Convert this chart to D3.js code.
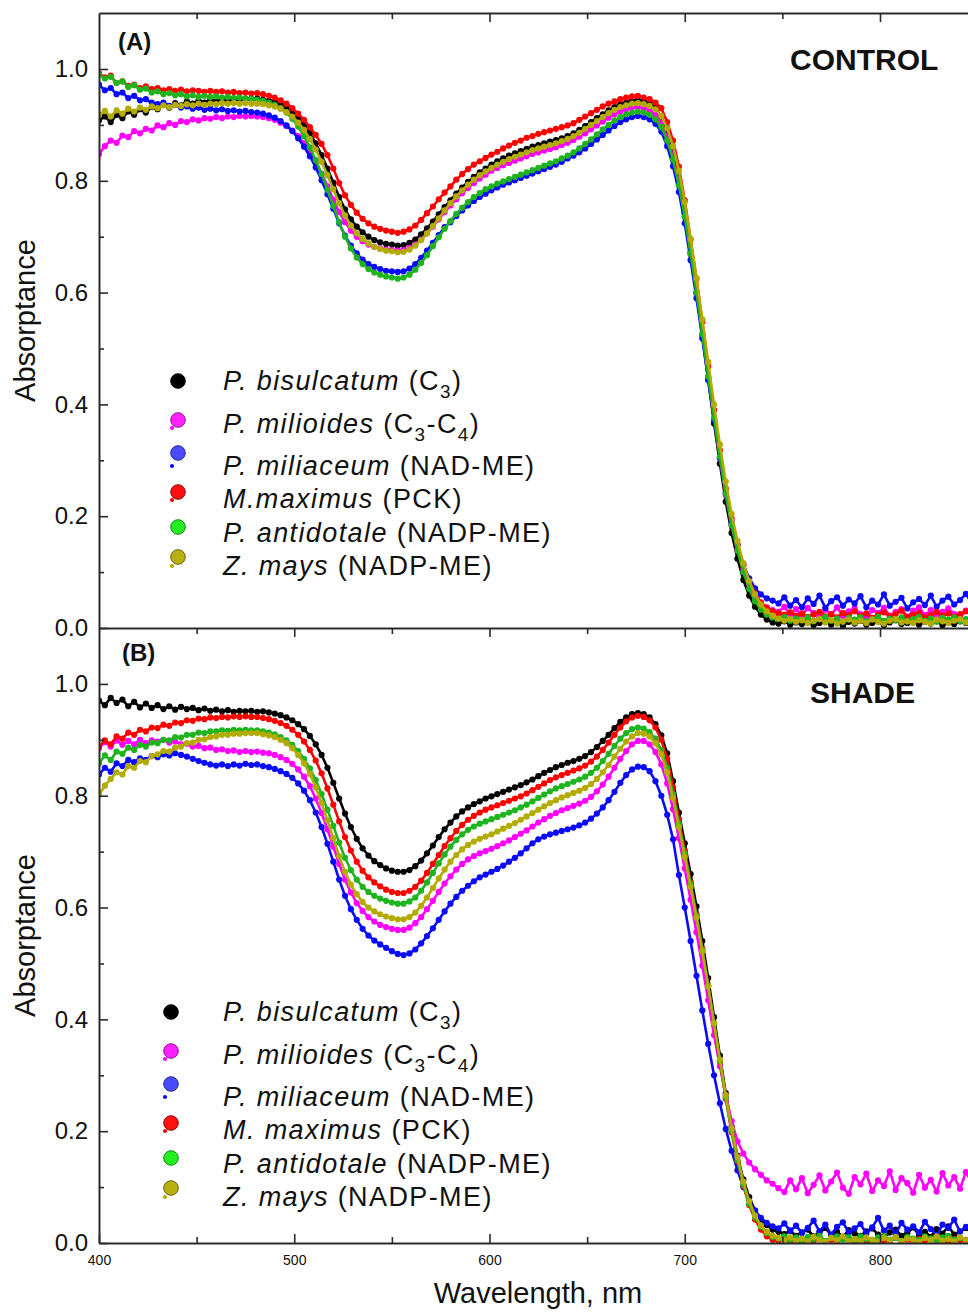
<!DOCTYPE html>
<html>
<head>
<meta charset="utf-8">
<script src="https://cdn.jsdelivr.net/npm/d3@7"></script>
<style>
  html, body { margin: 0; padding: 0; background: #fff; }
  svg { display: block; font-family: "Liberation Sans", Arial, Helvetica, sans-serif; }
</style>
</head>
<body>
<svg id="chart" width="968" height="1312"></svg>
<script>
// Leaf absorptance spectra, one value every 3 nm starting at 400 nm.
// Values are absorptance x 1000.
const waveStart = 400;
const waveStep = 3;

const speciesControl = ["P. bisulcatum", "P. milioides", "P. miliaceum", "M.maximus", "P. antidotale", "Z. mays"];
const speciesShade   = ["P. bisulcatum", "P. milioides", "P. miliaceum", "M. maximus", "P. antidotale", "Z. mays"];
const pathwayLabels  = ["(C_3)", "(C_3-C_4)", "(NAD-ME)", "(PCK)", "(NADP-ME)", "(NADP-ME)"];
const seriesColors   = ["#000000", "#ff00ff", "#0a0aff", "#ff0000", "#1fb41f", "#b3ab00"];
const legendFills    = ["#000000", "#ff22ff", "#4a4aff", "#ff1010", "#22ee22", "#b8b010"];

const xMajorTicks = [400, 500, 600, 700, 800];
const xMinorTicks = [450, 550, 650, 750, 850];
const yMajorTicks = [0, 0.2, 0.4, 0.6, 0.8, 1.0];
const yMinorTicks = [0.1, 0.3, 0.5, 0.7, 0.9];

// ---- CONTROL ----
const controlBisulcatum = [
908,915,905,918,912,924,918,928,922,932, 928,936,931,939,935,942,938,944,940,945,
943,946,944,947,945,947,946,947,945,943, 941,937,931,923,913,900,885,867,846,822,
797,771,749,731,718,708,700,694,690,687, 686,684,685,689,695,704,715,727,740,753,
765,777,788,798,807,815,822,829,835,840, 845,849,853,857,861,864,867,870,873,876,
880,885,891,898,905,912,919,926,932,937, 940,943,944,942,938,930,915,888,852,802,
742,672,600,524,444,366,294,226,170,124, 86,58,38,24,15,10,8,12,6,10,
7,13,5,9,12,6,10,4,11,8, 13,6,9,12,5,10,14,7,9,12,
6,11,8,13,5,10,7,12,9,6, 10];
const controlMilioides = [
848,862,872,868,881,878,889,885,893,890, 899,896,903,900,907,905,910,908,912,911,
914,912,915,914,916,915,916,915,914,912, 909,904,898,890,880,867,852,834,813,790,
766,744,726,711,700,692,686,682,679,677, 676,675,676,680,686,695,706,718,731,744,
756,767,778,787,796,804,811,818,823,828, 832,836,840,844,848,851,854,857,860,864,
868,873,879,885,892,899,906,913,919,924, 928,931,932,930,926,918,903,878,842,794,
736,668,598,524,448,373,303,238,184,140, 104,78,58,45,37,32,29,38,24,34,
22,36,27,19,33,24,37,21,30,35, 25,18,32,27,36,22,29,34,20,31,
37,23,32,20,29,35,25,18,31,36, 26];
const controlMiliaceum = [
972,962,966,955,958,948,952,944,946,940, 937,940,934,936,931,933,929,931,927,929,
926,928,925,926,924,925,923,922,920,917, 913,907,899,889,876,861,844,824,801,776,
750,724,702,684,670,659,651,646,642,639, 638,637,638,643,651,662,675,689,703,717,
726,737,747,756,764,771,777,783,788,793, 797,801,805,809,813,817,821,825,829,834,
840,845,851,858,866,874,882,890,898,905, 910,914,916,914,910,902,888,862,826,780,
724,658,590,518,444,372,304,242,190,148, 114,89,71,60,53,49,44,55,40,50,
37,53,43,58,36,48,55,40,51,44, 57,37,49,42,60,40,47,54,35,46,
52,41,58,38,49,56,42,50,61,44, 51];
const controlMaximus = [
992,985,988,975,978,970,972,966,969,964, 966,962,964,961,963,960,962,961,959,961,
959,960,958,959,957,958,956,957,955,952, 949,944,938,930,920,909,896,882,866,846,
822,796,774,757,743,732,724,718,714,711, 709,707,709,713,720,730,742,754,767,779,
790,802,812,821,829,835,841,847,852,858, 863,868,872,877,880,884,887,890,893,896,
899,903,909,915,921,927,933,938,942,946, 949,951,952,949,946,940,930,905,872,825,
765,695,625,548,468,390,318,250,196,150, 112,84,62,46,36,30,26,24,28,22,
26,20,24,29,21,25,19,27,23,30, 22,26,18,24,28,21,25,31,20,24,
27,19,23,29,22,26,20,25,30,23, 26];
const controlAntidotale = [
990,983,986,975,978,968,971,963,965,958, 960,955,957,953,955,951,953,950,952,950,
951,949,950,948,949,947,947,945,943,940, 936,930,922,911,897,880,860,837,812,784,
755,726,700,679,663,651,642,636,632,629, 627,625,627,632,641,653,667,683,699,714,
728,741,752,762,771,778,785,790,795,799, 803,807,811,815,819,823,827,831,835,840,
845,851,858,866,874,883,892,900,908,914, 919,922,924,922,918,910,896,872,838,792,
736,670,600,526,450,376,306,240,184,138, 100,70,48,33,24,19,16,20,13,17,
14,19,12,16,20,13,17,11,18,15, 19,12,16,20,13,17,14,19,12,16,
20,13,17,11,18,15,19,12,16,20, 14];
const controlMays = [
918,925,915,926,920,929,924,931,927,933, 930,935,932,936,934,937,935,938,936,938,
937,939,938,939,938,939,938,938,937,935, 933,929,923,915,904,891,875,856,834,810,
785,760,738,720,706,696,688,682,678,675, 674,672,673,677,684,694,706,719,733,747,
760,772,783,793,802,810,817,823,829,834, 839,843,847,851,855,858,861,864,867,871,
875,880,886,893,900,907,914,921,927,932, 935,938,939,937,934,928,916,894,862,818,
762,696,626,552,476,400,328,262,204,156, 116,84,60,42,30,22,17,13,16,11,
14,9,13,16,10,14,8,12,15,10, 13,9,15,11,8,13,16,10,12,9,
14,11,8,15,12,9,13,16,10,12, 11];

// ---- SHADE ----
const shadeBisulcatum = [
970,962,975,966,972,960,968,958,965,957, 962,955,960,954,959,955,957,953,956,952,
954,951,953,950,952,951,952,950,951,949, 947,944,940,935,928,919,907,892,873,850,
823,795,768,744,723,706,693,683,676,670, 666,664,664,667,674,684,697,711,726,740,
752,763,772,779,785,790,795,799,803,807, 811,815,819,824,829,835,841,846,851,855,
859,862,866,871,878,887,898,909,921,932, 940,946,948,946,940,928,908,876,826,770,
715,660,602,540,474,404,335,268,208,156, 114,82,58,42,32,24,20,16,22,13,
19,24,12,18,27,14,20,11,23,17, 13,21,26,15,10,19,24,13,18,28,
14,20,11,25,17,30,15,21,27,18, 22];
const shadeMilioides = [
885,896,888,899,891,898,892,900,894,899, 897,900,895,897,892,893,888,889,885,886,
882,883,880,881,878,880,878,879,877,876, 873,869,864,857,847,834,817,795,769,740,
709,678,650,627,608,594,583,575,569,565, 562,560,560,564,572,583,597,612,628,643,
656,668,678,686,692,697,701,705,710,715, 720,726,732,738,745,752,758,764,769,774,
778,782,786,791,798,808,820,834,850,866, 880,892,898,898,892,878,856,822,776,724,
670,614,556,496,434,372,316,264,218,182, 160,144,132,122,112,106,98,91,112,96,
116,89,104,121,94,110,126,99,88,118, 105,124,93,112,102,128,95,116,107,90,
122,99,113,92,125,103,118,97,127,108, 114];
const shadeMiliaceum = [
838,850,843,858,853,864,860,867,864,871, 869,874,872,876,873,870,866,862,859,856,
854,856,853,856,854,857,855,856,853,851, 848,844,839,832,822,809,792,770,744,714,
682,650,621,597,578,562,550,541,534,528, 522,517,515,518,525,536,549,563,578,593,
607,619,630,639,647,654,659,664,669,675, 682,689,697,706,715,722,727,731,734,737,
740,743,747,752,759,768,779,792,807,823, 837,847,852,851,844,826,800,766,722,658,
600,540,478,416,356,300,250,204,165,130, 100,76,58,45,36,30,26,35,22,31,
18,27,40,21,33,15,29,37,19,26, 34,17,28,45,22,31,16,36,24,30,
19,38,25,14,33,27,42,20,29,35, 23];
const shadeMaximus = [
888,899,892,906,902,913,909,918,915,922, 921,927,925,931,930,935,934,938,937,940,
939,941,940,942,941,942,941,941,939,937, 934,930,925,918,909,897,882,863,840,813,
784,754,726,702,682,666,654,645,638,632, 628,626,626,630,637,648,662,678,694,710,
724,737,748,757,764,770,775,779,783,787, 791,795,799,804,810,816,822,828,833,837,
841,845,849,854,861,870,882,895,909,922, 933,940,943,941,935,922,900,866,815,758,
702,646,588,526,460,392,324,258,198,146, 102,68,42,24,12,6,4,8,3,6,
2,7,4,9,3,6,2,8,5,3, 7,4,2,8,5,3,9,4,6,2,
7,4,8,3,6,2,7,5,3,8, 4];
const shadeAntidotale = [
858,872,864,879,875,886,882,891,888,895, 894,900,899,905,904,909,909,913,912,915,
915,917,916,918,917,918,917,917,915,913, 910,905,899,891,880,866,849,828,803,775,
746,716,689,667,650,637,628,621,616,612, 609,607,607,611,618,630,645,662,679,695,
709,721,731,739,745,750,754,758,762,766, 770,774,779,784,790,796,802,808,813,817,
821,825,829,834,841,850,862,875,889,902, 912,919,922,920,914,902,882,850,803,750,
697,642,585,524,460,393,326,260,200,148, 104,70,46,29,18,11,8,12,6,10,
5,11,7,13,4,9,12,6,10,5, 12,7,4,10,13,6,9,4,11,8,
5,12,8,4,10,13,6,9,5,11, 7];
const shadeMays = [
802,818,830,842,838,853,850,862,860,871, 874,880,879,886,888,894,895,900,901,905,
906,909,909,911,911,912,912,912,910,908, 905,900,894,885,873,858,839,815,787,756,
724,692,664,641,624,610,600,593,588,584, 581,579,579,583,591,603,618,635,652,668,
682,694,704,712,718,723,727,731,736,741, 746,751,757,763,769,775,781,787,792,797,
801,805,809,814,821,830,842,855,870,884, 897,906,912,911,906,894,874,842,796,744,
691,637,582,522,459,393,328,264,205,154, 110,75,49,31,20,13,9,5,10,4,
8,3,11,6,2,9,5,12,3,7, 4,10,6,2,9,5,11,3,8,6,
2,9,5,12,4,7,3,10,6,4, 8];

// ---------------------------------------------------------------
const svg = d3.select("#chart");
const W = 968;
const axisColor = "#2a2a2a";

const x = d3.scaleLinear().domain([400, 900]).range([99, 99 + 500 * 1.9525]);

const panels = [
  {
    id: "A", label: "(A)", title: "CONTROL", top: 13.1, bottom: 628,
    series: [controlBisulcatum, controlMilioides, controlMiliaceum, controlMaximus, controlAntidotale, controlMays],
    species: speciesControl,
    labelPos: [118, 50], titlePos: [790, 70],
    markerX: 178, markerY: [381, 420, 453, 492, 527, 557],
    textX: 223, textY: [390, 433, 475, 508, 542, 575],
    bottomTicks: false
  },
  {
    id: "B", label: "(B)", title: "SHADE", top: 628, bottom: 1243,
    series: [shadeBisulcatum, shadeMilioides, shadeMiliaceum, shadeMaximus, shadeAntidotale, shadeMays],
    species: speciesShade,
    labelPos: [122, 661], titlePos: [810, 703],
    markerX: 171, markerY: [1012, 1051, 1084, 1123, 1158, 1188],
    textX: 223, textY: [1021, 1064, 1106, 1139, 1173, 1206],
    bottomTicks: true
  }
];

// small trailing dot drawn under some legend symbols
const legendTail = [null, [-6, 8], [-6, 13], [-6, 8], null, [-6, 9]];

function styleAxis(g) {
  g.selectAll("path.domain").attr("stroke", axisColor).attr("stroke-width", 2);
  g.selectAll(".tick line").attr("stroke", axisColor).attr("stroke-width", 1.6);
}

function writeLabel(textSel, species, pathway, size) {
  textSel.append("tspan").attr("font-style", "italic").text(species);
  textSel.append("tspan").text(" ");
  const parts = pathway.split(/(_\d)/).filter(s => s.length);
  let lowered = false;
  parts.forEach(part => {
    if (part[0] === "_") {
      textSel.append("tspan").attr("font-size", size * 0.7).attr("dy", size * 0.3).text(part.slice(1));
      lowered = true;
    } else {
      const t = textSel.append("tspan").text(part);
      if (lowered) { t.attr("dy", -size * 0.3); lowered = false; }
    }
  });
}

panels.forEach(p => {
  const y = d3.scaleLinear().domain([0, 1.1]).range([p.bottom, p.top]);
  const g = svg.append("g").attr("class", "panel-" + p.id);

  const clipId = "clip-" + p.id;
  svg.append("defs").append("clipPath").attr("id", clipId)
    .append("rect").attr("x", x(400)).attr("y", p.top).attr("width", W).attr("height", p.bottom - p.top);

  // spectra: connected scatter
  const plot = g.append("g").attr("clip-path", `url(#${clipId})`);
  const line = d3.line()
    .x((d, i) => x(waveStart + i * waveStep))
    .y(d => y(d / 1000));
  p.series.forEach((vals, si) => {
    const s = plot.append("g");
    s.append("path").datum(vals)
      .attr("d", line)
      .attr("fill", "none")
      .attr("stroke", seriesColors[si])
      .attr("stroke-width", 2.6)
      .attr("stroke-linejoin", "round");
    s.selectAll("circle").data(vals).join("circle")
      .attr("cx", (d, i) => x(waveStart + i * waveStep))
      .attr("cy", d => y(d / 1000))
      .attr("r", 3.1)
      .attr("fill", seriesColors[si]);
  });

  // left axis
  const yAxis = g.append("g").attr("transform", `translate(${x(400)},0)`)
    .call(d3.axisLeft(y).tickValues(yMajorTicks).tickFormat(d3.format(".1f"))
      .tickSizeInner(-9).tickSizeOuter(0).tickPadding(11));
  styleAxis(yAxis);
  yAxis.selectAll("text").attr("font-size", 24).attr("fill", "#111")
    .attr("font-family", "'Liberation Sans', Arial, sans-serif");
  const yMinor = g.append("g").attr("transform", `translate(${x(400)},0)`)
    .call(d3.axisLeft(y).tickValues(yMinorTicks).tickFormat("").tickSizeInner(-5).tickSizeOuter(0));
  yMinor.select("path.domain").remove();
  styleAxis(yMinor);

  // top axis (ticks pointing into the panel)
  const topAxis = g.append("g").attr("transform", `translate(0,${p.top})`)
    .call(d3.axisTop(x).tickValues(xMajorTicks.slice(1)).tickFormat("").tickSizeInner(-9).tickSizeOuter(0));
  styleAxis(topAxis);
  const topMinor = g.append("g").attr("transform", `translate(0,${p.top})`)
    .call(d3.axisTop(x).tickValues(xMinorTicks).tickFormat("").tickSizeInner(-6).tickSizeOuter(0));
  topMinor.select("path.domain").remove();
  styleAxis(topMinor);

  if (p.bottomTicks) {
    const botAxis = g.append("g").attr("transform", `translate(0,${p.bottom})`)
      .call(d3.axisBottom(x).tickValues(xMajorTicks).tickFormat(d3.format("d"))
        .tickSizeInner(-9).tickSizeOuter(0).tickPadding(12));
    styleAxis(botAxis);
    botAxis.selectAll("text").attr("font-size", 14).attr("fill", "#111")
      .attr("font-family", "'Liberation Sans', Arial, sans-serif");
    const botMinor = g.append("g").attr("transform", `translate(0,${p.bottom})`)
      .call(d3.axisBottom(x).tickValues(xMinorTicks).tickFormat("").tickSizeInner(-6).tickSizeOuter(0));
    botMinor.select("path.domain").remove();
    styleAxis(botMinor);
  }

  // y axis title
  g.append("text")
    .attr("transform", `translate(35,${(p.top + p.bottom) / 2}) rotate(-90)`)
    .attr("text-anchor", "middle")
    .attr("font-size", 29)
    .attr("fill", "#111")
    .text("Absorptance");

  // panel letter and treatment
  g.append("text").attr("x", p.labelPos[0]).attr("y", p.labelPos[1])
    .attr("font-size", 24).attr("font-weight", "bold").attr("fill", "#111").text(p.label);
  g.append("text").attr("x", p.titlePos[0]).attr("y", p.titlePos[1])
    .attr("font-size", 30).attr("font-weight", "bold").attr("fill", "#111").text(p.title);

  // legend
  const lg = g.append("g");
  p.species.forEach((name, si) => {
    const c = legendFills[si];
    const mx = p.markerX, my = p.markerY[si];
    if (legendTail[si]) {
      lg.append("circle").attr("cx", mx + legendTail[si][0]).attr("cy", my + legendTail[si][1])
        .attr("r", 2.1).attr("fill", seriesColors[si]);
    }
    lg.append("circle").attr("cx", mx).attr("cy", my).attr("r", 7.3)
      .attr("fill", c)
      .attr("stroke", d3.color(c).darker(1.6))
      .attr("stroke-width", 1);
    const t = lg.append("text").attr("x", p.textX).attr("y", p.textY[si])
      .attr("font-size", 27).attr("letter-spacing", 1.4).attr("fill", "#111");
    writeLabel(t, name, pathwayLabels[si], 27);
  });
});

// x axis title
svg.append("text")
  .attr("x", 538).attr("y", 1303)
  .attr("text-anchor", "middle")
  .attr("font-size", 29)
  .attr("fill", "#111")
  .text("Wavelength, nm");
</script>
</body>
</html>
